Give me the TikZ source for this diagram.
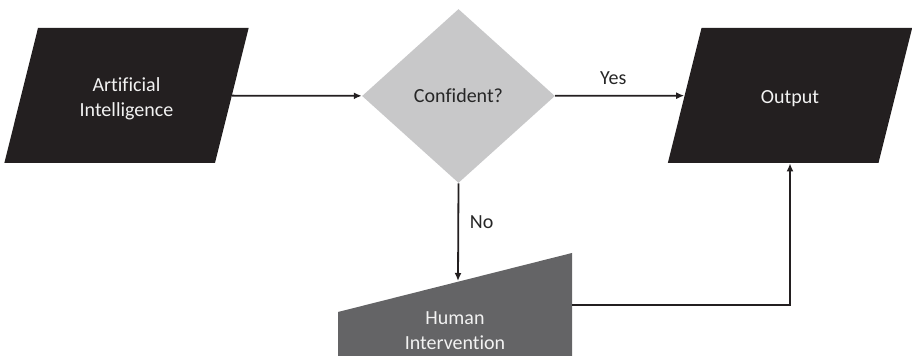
\documentclass[tikz,border=0pt]{standalone}
\usepackage{fontspec}
\setmainfont{Carlito}[Ligatures=NoCommon]
\usetikzlibrary{positioning, arrows.meta, shapes.geometric}

\definecolor{boxblack}{HTML}{231F20}
\definecolor{decgray}{HTML}{C8C8C9}
\definecolor{mangray}{HTML}{646466}
\definecolor{boxtext}{HTML}{F2F2F2}

% fixed body for the parallelograms
\newcommand\iolabel[1]{\parbox[c][67.5pt][c]{88.5pt}{\centering\vspace*{3.5pt}#1}}

\begin{document}
\begin{tikzpicture}[
    x=0.5pt, y=-0.5pt,
    every node/.style={font=\fontsize{10}{12.5}\selectfont, align=center, text=black!85},
    iobox/.style={trapezium, trapezium left angle=76, trapezium right angle=104,
        fill=boxblack, text=boxtext, inner sep=0pt},
    decision/.style={diamond, fill=decgray, minimum width=96.5pt, minimum height=87pt, inner sep=0pt},
    arr/.style={draw=boxblack, line width=0.9pt, -{Latex[length=4pt, width=3.5pt]}}
]
\useasboundingbox (0,0) rectangle (912,356);

\node[iobox] (ai) at (126.5,95.5) {\iolabel{Artificial\\Intelligence}};
\node[decision] (conf) at (458.5,96) {Confident?};
\node[iobox] (out) at (790,95.5) {\iolabel{Output}};

% manual input shape, cut by the page edge
\fill[mangray] (338,312) -- (572,253) -- (572,380) -- (338,380) -- cycle;
\node[text=boxtext] (human) at (455,331) {Human\\Intervention};
\coordinate (humtop) at (458,281);
\coordinate (humright) at (572,305);

\draw[arr] (ai) -- (conf);
\draw[arr] (conf) -- node[above=2pt, pos=0.45] (yes) {Yes} (out);
\draw[arr] (conf.south) -- node[right=2pt, pos=0.4] (no) {No} (humtop);
\draw[arr] (humright) -| (out.south);
\end{tikzpicture}
\end{document}
